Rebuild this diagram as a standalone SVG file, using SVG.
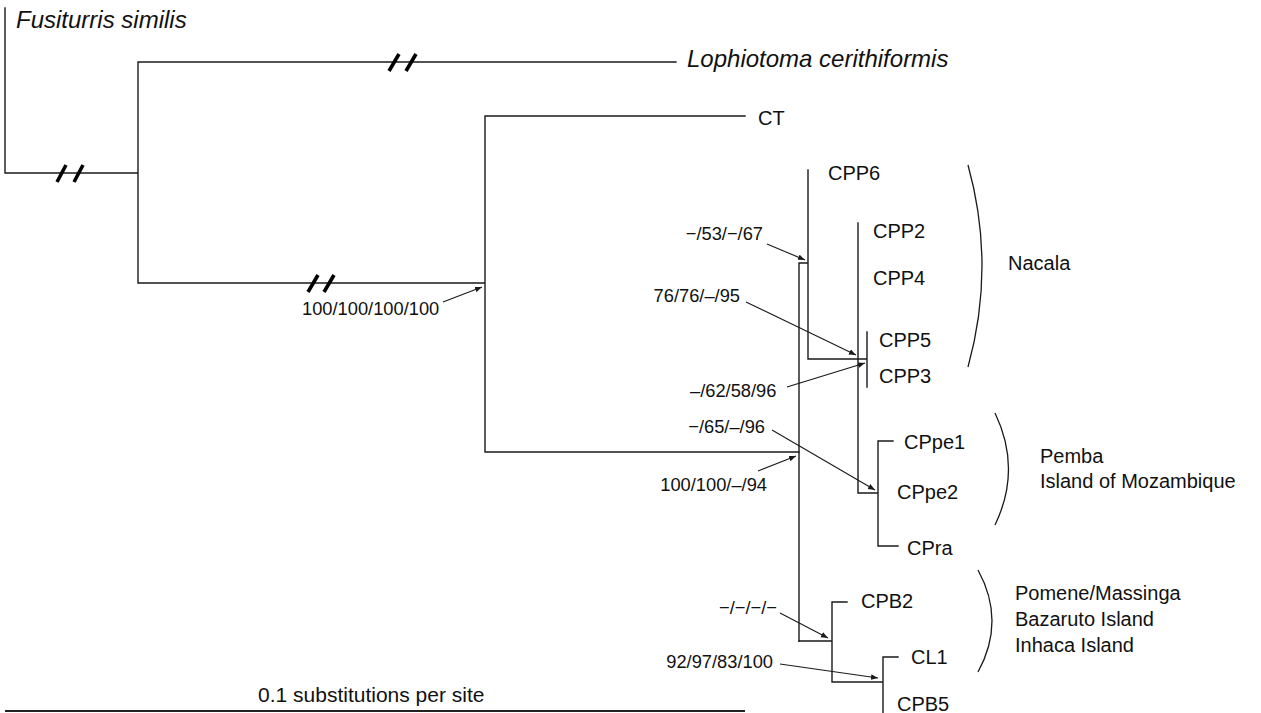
<svg xmlns="http://www.w3.org/2000/svg" width="1261" height="713" viewBox="0 0 1261 713">
<defs>
<style>
.br{fill:none;stroke:#1a1a1a;stroke-width:1.4;stroke-linecap:square}
.brk{stroke:#000;stroke-width:3.6;stroke-linecap:butt}
.ar{fill:none;stroke:#1a1a1a;stroke-width:1.1;marker-end:url(#ah)}
.bk{fill:none;stroke:#1a1a1a;stroke-width:1.3}
text{font-family:"Liberation Sans",Arial,sans-serif;fill:#111}
.it{font-style:italic;font-size:24px}
.lf{font-size:20px}
.sp{font-size:18.3px}
.rg{font-size:20px}
</style>
<marker id="ah" viewBox="0 0 10 10" refX="10" refY="5" markerWidth="7" markerHeight="7" markerUnits="userSpaceOnUse" orient="auto">
<path d="M0,1 L10,5 L0,9 Z" fill="#1a1a1a"/>
</marker>
</defs>
<rect width="1261" height="713" fill="#fff"/>
<g id="connectors">
<path class="br" d="M5,8 V173 H138 M138,62 V283 M138,62 H676 M138,283 H485 M485,116 V452 M485,116 H745 M485,452 H799"/>
<path class="br" d="M799,263 V641 M799,263 H808 M808,170 V359 M808,359 H867 M867,332 V387 M858,223 V493 M858,493 H878 M878,441 V546 M878,441 H893 M878,546 H898"/>
<path class="br" d="M799,641 H832 M832,602 V682 M832,602 H847 M832,682 H883 M883,657 V713 M883,657 H898"/>
<g id="breaks">
<line class="brk" x1="57" y1="182" x2="66" y2="165"/>
<line class="brk" x1="74" y1="182" x2="83" y2="165"/>
<line class="brk" x1="389" y1="71" x2="399" y2="54"/>
<line class="brk" x1="406" y1="71" x2="416" y2="54"/>
<line class="brk" x1="308" y1="292" x2="318" y2="275"/>
<line class="brk" x1="324" y1="292" x2="334" y2="275"/>
</g>
<g id="support-arrows">
<line class="ar" x1="443" y1="302" x2="482" y2="287"/>
<line class="ar" x1="767" y1="244" x2="805" y2="260"/>
<line class="ar" x1="746" y1="302" x2="856" y2="355"/>
<line class="ar" x1="787" y1="387" x2="865" y2="363"/>
<line class="ar" x1="772" y1="430" x2="875" y2="490"/>
<line class="ar" x1="758" y1="471" x2="796" y2="456"/>
<line class="ar" x1="780" y1="613" x2="828" y2="638"/>
<line class="ar" x1="780" y1="664" x2="878" y2="678"/>
</g>
<line id="scalebar" x1="5" y1="711" x2="745" y2="711" stroke="#222" stroke-width="2"/>
</g>
<g id="n-fusiturris"><text class="it" x="16" y="28">Fusiturris similis</text></g>
<g id="n-lophiotoma"><text class="it" x="687" y="67">Lophiotoma cerithiformis</text></g>
<g id="n-ct"><text class="lf" x="758" y="125">CT</text></g>
<g id="n-cpp6"><text class="lf" x="828" y="180">CPP6</text></g>
<g id="n-cpp2"><text class="lf" x="873" y="238">CPP2</text></g>
<g id="n-cpp4"><text class="lf" x="873" y="285">CPP4</text></g>
<g id="n-cpp5"><text class="lf" x="879" y="347">CPP5</text></g>
<g id="n-cpp3"><text class="lf" x="879" y="383">CPP3</text></g>
<g id="n-cppe1"><text class="lf" x="904" y="449">CPpe1</text></g>
<g id="n-cppe2"><text class="lf" x="897" y="499">CPpe2</text></g>
<g id="n-cpra"><text class="lf" x="907" y="555">CPra</text></g>
<g id="n-cpb2"><text class="lf" x="861" y="608">CPB2</text></g>
<g id="n-cl1"><text class="lf" x="911" y="664">CL1</text></g>
<g id="n-cpb5"><text class="lf" x="897" y="711">CPB5</text></g>
<g id="supports">
<text class="sp" x="302" y="315">100/100/100/100</text>
<text class="sp" x="763" y="240" text-anchor="end">−/53/−/67</text>
<text class="sp" x="740" y="302" text-anchor="end">76/76/–/95</text>
<text class="sp" x="690" y="397">–/62/58/96</text>
<text class="sp" x="765" y="433" text-anchor="end">−/65/–/96</text>
<text class="sp" x="767" y="491" text-anchor="end">100/100/–/94</text>
<text class="sp" x="777" y="614" text-anchor="end">−/−/−/−</text>
<text class="sp" x="773" y="668" text-anchor="end">92/97/83/100</text>
</g>
<g id="g-nacala">
<path class="bk" d="M968,165 Q996,266 968,367"/>
<text class="rg" x="1008" y="270">Nacala</text>
</g>
<g id="g-pemba">
<path class="bk" d="M995,413 Q1022,469 995,525"/>
<text class="rg" x="1040" y="463">Pemba</text>
<text class="rg" x="1040" y="488">Island of Mozambique</text>
</g>
<g id="g-pomene">
<path class="bk" d="M978,570 Q1006,621 978,672"/>
<text class="rg" x="1015" y="600">Pomene/Massinga</text>
<text class="rg" x="1015" y="626">Bazaruto Island</text>
<text class="rg" x="1015" y="652">Inhaca Island</text>
</g>
<g id="scale-label"><text x="258" y="702" font-size="21px">0.1 substitutions per site</text></g>
</svg>
